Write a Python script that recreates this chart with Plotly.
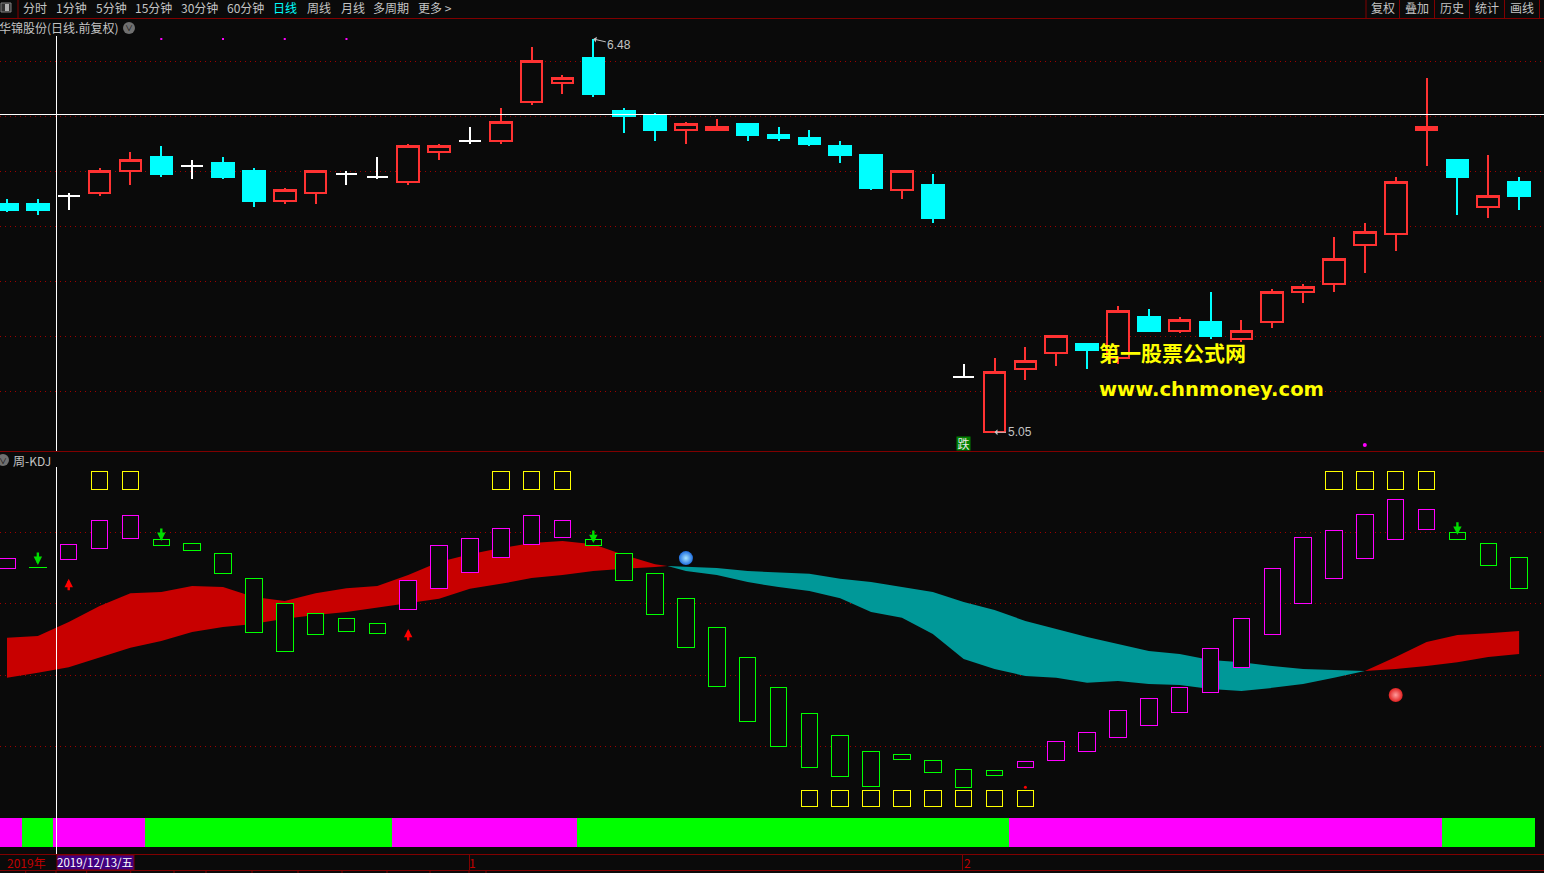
import plotly.graph_objects as go

# ---------- data ----------
opens = [5.88,5.88,5.91,5.92,6.00,6.05,6.02,6.03,6.00,5.89,5.92,5.99,5.98,5.96,6.07,6.11,6.11,6.25,6.32,6.41,
         6.22,6.20,6.15,6.15,6.17,6.13,6.12,6.09,6.06,5.93,5.95,5.25,5.05,5.28,5.34,5.37,5.32,5.47,5.42,5.45,
         5.39,5.45,5.56,5.59,5.73,5.77,6.15,6.04,5.87,5.96]
highs = [5.90,5.90,5.92,6.01,6.07,6.09,6.04,6.05,6.01,5.94,6.00,6.00,6.05,6.10,6.10,6.16,6.23,6.45,6.35,6.48,
         6.23,6.21,6.18,6.19,6.17,6.16,6.15,6.11,6.06,6.00,5.99,5.30,5.32,5.36,5.40,5.37,5.51,5.50,5.47,5.56,
         5.46,5.57,5.59,5.76,5.81,5.98,6.34,6.04,6.06,5.98]
lows = [5.85,5.84,5.86,5.91,5.95,5.98,5.97,5.97,5.87,5.88,5.88,5.95,5.97,5.95,6.04,6.10,6.10,6.24,6.28,6.27,
        6.14,6.11,6.10,6.15,6.11,6.11,6.09,6.03,5.93,5.90,5.81,5.25,5.05,5.24,5.29,5.28,5.30,5.42,5.41,5.39,
        5.38,5.43,5.52,5.56,5.63,5.71,6.02,5.84,5.83,5.86]
closes = [5.86,5.86,5.91,6.00,6.04,5.99,6.02,5.98,5.89,5.93,6.00,5.99,5.98,6.09,6.09,6.11,6.18,6.40,6.34,6.28,
          6.20,6.15,6.17,6.16,6.13,6.12,6.10,6.06,5.94,6.00,5.83,5.25,5.27,5.31,5.40,5.35,5.49,5.42,5.46,5.40,
          5.42,5.56,5.58,5.68,5.78,5.96,6.16,5.98,5.91,5.91]

kdj_top = [72.7,70.2,76.6,83.1,84.5,78.0,76.9,74.1,66.9,60.1,57.3,55.7,54.5,66.3,76.1,78.3,81.1,84.5,83.1,78.0,
           74.1,68.5,61.5,53.4,44.8,36.6,29.1,23.2,18.5,17.9,16.2,13.7,13.2,15.9,21.3,23.8,30.2,33.3,36.6,47.3,
           55.7,69.7,78.6,80.3,84.8,89.0,86.4,80.0,76.9,73.0]
kdj_bottom = [69.9,70.1,72.2,75.5,78.3,76.1,74.7,68.3,52.0,46.7,51.2,52.3,51.5,58.2,64.1,68.8,73.0,76.6,78.6,76.1,
              66.3,56.8,47.6,36.9,27.1,19.9,14.0,11.5,8.7,16.5,12.6,8.4,12.0,14.0,16.2,18.7,22.4,26.0,29.4,35.2,
              42.2,51.2,60.1,66.9,72.7,78.0,80.6,78.0,70.5,64.3]
kdj_rising = [1,0,1,1,1,0,0,0,0,0,0,0,0,1,1,1,1,1,1,0,
              0,0,0,0,0,0,0,0,0,0,0,0,0,1,1,1,1,1,1,1,
              1,1,1,1,1,1,1,0,0,0]

strip_rising = [1,0,1,1,1,0,0,0,0,0,0,0,0,1,1,1,1,1,1,0,
                0,0,0,0,0,0,0,0,0,0,0,0,0,1,1,1,1,1,1,1,
                1,1,1,1,1,1,1,0,0,0]

band_up_x = list(range(0, 22)) + [21.4]
band_up_top = [50.4,50.9,54.8,59.3,62.9,63.2,64.9,64.6,61.8,60.7,62.9,64.3,64.9,68.0,71.6,73.8,75.5,76.9,77.5,76.6,73.6,71.0,70.5]
band_up_bottom = [39.2,40.6,42.2,44.8,47.6,49.5,52.0,53.4,54.3,55.7,56.8,57.6,58.7,60.1,61.3,64.1,65.5,67.1,68.0,69.1,69.7,70.2,70.5]

band_down_x = [21.4] + list(range(22, 45))
band_down_top = [70.5,70.2,69.9,69.1,68.8,68.3,66.9,66.0,64.6,63.2,60.4,58.2,55.1,52.9,50.6,48.7,46.7,45.9,44.2,43.6,42.5,41.7,41.4,41.1]
band_down_bottom = [70.5,69.1,68.0,66.0,64.6,63.5,61.5,57.6,56.0,51.5,44.5,41.7,39.7,39.2,37.8,38.3,37.5,37.2,36.1,35.5,36.4,37.5,39.2,41.1]

band_up2_x = [44, 45, 46, 47, 48, 49]
band_up2_top = [41.1,45.0,49.2,51.2,51.7,52.3]
band_up2_bottom = [41.1,41.7,42.5,43.6,45.0,45.9]

high_marks = [3,4,16,17,18,43,44,45,46]
low_marks = [26,27,28,29,30,31,32,33]
high_mark_range = (92.0, 96.8)
low_mark_range = (3.1, 7.8)

sell_arrows_x = [1,5,19,47]
sell_arrows_y = [70.8,77.5,76.9,79.2]
buy_arrows_x = [2,13]
buy_arrows_y = [66.9,52.9]

dots_top_x = [5,7,9,11]
dots_top_y = [6.48,6.48,6.48,6.48]

toolbar_left = [("分时",34.5),("1分钟",71),("5分钟",111),("15分钟",153),("30分钟",199.5),("60分钟",245),
                ("周线",319),("月线",353),("多周期",391),("更多 >",434.5)]
toolbar_right = [("复权",1383),("叠加",1417),("历史",1452),("统计",1487),("画线",1522)]
toolbar_seps = [18,1366,1399.5,1434.5,1469.5,1504.5,1539.5]
bottom_ticks = [25.7,56,86.7,130.7,174,206,252,298,342,387,430,469,486]

# ---------- style ----------
BG = "#0A0A0A"; RED = "#FF3232"; CYAN = "#00FFFF"; MAG = "#FF00FF"; GRN = "#00FF00"; YEL = "#FFFF00"
DARK = "#800000"; TXT = "#C4C4C4"; CJK = "Noto Sans CJK SC"
W, H = 1544, 873
def fx(p): return p / W
def fy(p): return 1 - p / H

fig = go.Figure()
idx = list(range(len(opens)))

# candles
main = [i for i in idx if opens[i] != closes[i]]
doji = [i for i in idx if opens[i] == closes[i]]
fig.add_trace(go.Candlestick(
    x=main, open=[opens[i] for i in main], high=[highs[i] for i in main],
    low=[lows[i] for i in main], close=[closes[i] for i in main],
    whiskerwidth=0, xaxis="x", yaxis="y",
    increasing=dict(line=dict(color=RED, width=2), fillcolor=BG),
    decreasing=dict(line=dict(color=CYAN, width=2), fillcolor=CYAN)))
fig.add_trace(go.Candlestick(
    x=doji, open=[opens[i] for i in doji], high=[highs[i] for i in doji],
    low=[lows[i] for i in doji], close=[closes[i] for i in doji],
    whiskerwidth=0, xaxis="x", yaxis="y",
    increasing=dict(line=dict(color="#FFFFFF", width=2), fillcolor="#FFFFFF"),
    decreasing=dict(line=dict(color="#FFFFFF", width=2), fillcolor="#FFFFFF")))
fig.add_trace(go.Scatter(x=dots_top_x, y=dots_top_y, mode="markers", xaxis="x", yaxis="y",
                         marker=dict(color=MAG, size=2, symbol="square", line=dict(width=0))))
fig.add_trace(go.Scatter(x=[44], y=[5.004], mode="markers", xaxis="x", yaxis="y",
                         marker=dict(color=MAG, size=4, line=dict(width=0))))

# ribbon
for xs, top, bot, col in [(band_up_x, band_up_top, band_up_bottom, "#C80000"),
                          (band_down_x, band_down_top, band_down_bottom, "#009898"),
                          (band_up2_x, band_up2_top, band_up2_bottom, "#C80000")]:
    fig.add_trace(go.Scatter(x=xs + xs[::-1], y=top + bot[::-1], mode="lines", fill="toself",
                             fillcolor=col, line=dict(width=0), xaxis="x", yaxis="y2", zorder=-1))

# KDJ boxes
fig.add_trace(go.Bar(x=idx, base=kdj_bottom, y=[t - b for t, b in zip(kdj_top, kdj_bottom)],
                     width=0.535, xaxis="x", yaxis="y2", zorder=1,
                     marker=dict(color=BG, line=dict(width=1, color=[MAG if r else GRN for r in kdj_rising]))))
for xs, (lo, hi) in [(high_marks, high_mark_range), (low_marks, low_mark_range)]:
    fig.add_trace(go.Bar(x=xs, base=[lo] * len(xs), y=[hi - lo] * len(xs), width=0.535,
                         xaxis="x", yaxis="y2", zorder=1,
                         marker=dict(color=BG, line=dict(width=1, color=YEL))))

# balls
fig.add_trace(go.Scatter(x=[22], y=[72.7], mode="markers", xaxis="x", yaxis="y2", zorder=2,
                         marker=dict(size=14, color="#1F6FE0", gradient=dict(type="radial", color="#A8E4FF"), line=dict(width=0))))
fig.add_trace(go.Scatter(x=[45], y=[34.4], mode="markers", xaxis="x", yaxis="y2", zorder=2,
                         marker=dict(size=14, color="#E02020", gradient=dict(type="radial", color="#FF9C9C"), line=dict(width=0))))
fig.add_trace(go.Scatter(x=[33], y=[8.6], mode="markers", xaxis="x", yaxis="y2", zorder=2,
                         marker=dict(size=3, color="#FF0000", line=dict(width=0))))

# state strip
fig.add_trace(go.Bar(x=idx, y=[1] * len(idx), width=1.03, xaxis="x", yaxis="y3",
                     marker=dict(color=[MAG if s else GRN for s in strip_rising], line=dict(width=0))))

# ---------- texts ----------
ann = []
def label(text, x, y, color=TXT, size=12, anchor="center", family=CJK, **kw):
    ann.append(dict(text=text, x=fx(x), y=fy(y), xref="paper", yref="paper", showarrow=False,
                    xanchor=anchor, yanchor="middle", font=dict(color=color, size=size, family=family), **kw))
for t, x in toolbar_left + toolbar_right:
    label(t, x, 8)
label("日线", 285, 8, color=CYAN)
label("华锦股份(日线.前复权)", -3, 28, anchor="left")
label("周-KDJ", 10.5, 460, anchor="left")
label("∨", 129, 28, color="#101010", size=8)
label("∨", 3, 460, color="#101010", size=8)
label("2019年", 5, 862, color="#C00000", anchor="left")
label("2019/12/13/五", 55, 862, color="#FFFFFF", size=11.5, anchor="left")
label("1", 473, 862, color="#C00000")
label("2", 967, 862, color="#C00000")
label("<b>第一股票公式网</b>", 1096.5, 352, color=YEL, size=21, anchor="left")
label("<b>www.chnmoney.com</b>", 1096.5, 389, color=YEL, size=19.6, anchor="left", family="DejaVu Sans")

for x, y, ax, ay, t in [(19, 6.48, 26, 6, "6.48"), (32, 5.05, 25, 0, "5.05")]:
    ann.append(dict(text=t, x=x, y=y, xref="x", yref="y", showarrow=True, ax=ax, ay=ay, axref="pixel", ayref="pixel",
                    arrowhead=1, arrowsize=1, arrowwidth=1, arrowcolor=TXT, font=dict(color=TXT, size=12, family="Liberation Sans")))
ann.append(dict(text="跌", x=31, y=5.01, xref="x", yref="y", showarrow=False, bgcolor="#008000", borderpad=0,
                width=13, height=13, xshift=-0.5, font=dict(color="#E8E8E8", size=12, family=CJK)))
for xs, ys, col, ay in [(sell_arrows_x, sell_arrows_y, "#00DD00", -14), (buy_arrows_x, buy_arrows_y, "#FF0000", 13)]:
    for x, y in zip(xs, ys):
        ann.append(dict(text="", x=x, y=y, xref="x", yref="y2", showarrow=True, ax=0, ay=ay,
                        arrowhead=2, arrowsize=0.7, arrowwidth=2.4, arrowcolor=col))

# ---------- chrome ----------
shp = []
def hline(y, color=DARK, x0=0, x1=W, width=1):
    shp.append(dict(type="line", xref="paper", yref="paper", x0=fx(x0), x1=fx(x1), y0=fy(y), y1=fy(y), line=dict(color=color, width=width)))
def vline(x, y0, y1, color=DARK, width=1):
    shp.append(dict(type="line", xref="paper", yref="paper", x0=fx(x), x1=fx(x), y0=fy(y0), y1=fy(y1), line=dict(color=color, width=width)))
hline(18.5); hline(451.5); hline(854.5); hline(870.5)
for x in toolbar_seps:
    vline(x, 0, 18)
for x in bottom_ticks:
    vline(x, 870, 873)
vline(469.5, 855, 870); vline(962.5, 855, 870)
shp.append(dict(type="rect", xref="paper", yref="paper", x0=fx(57), x1=fx(134), y0=fy(855), y1=fy(870),
                fillcolor="#400080", line=dict(color=DARK, width=1), layer="below"))
# crosshair
hline(114.5, color="#FFFFFF")
vline(56.5, 36, 451, color="#FFFFFF"); vline(56.5, 467, 854, color="#FFFFFF")
# icons
shp.append(dict(type="circle", xref="paper", yref="paper", x0=fx(123), x1=fx(135), y0=fy(22), y1=fy(34), fillcolor="#707070", line=dict(width=0), layer="below"))
shp.append(dict(type="circle", xref="paper", yref="paper", x0=fx(-3), x1=fx(9), y0=fy(454), y1=fy(466), fillcolor="#707070", line=dict(width=0), layer="below"))
shp.append(dict(type="rect", xref="paper", yref="paper", x0=fx(1), x1=fx(11), y0=fy(3), y1=fy(12), fillcolor="#303030", line=dict(color="#808080", width=1)))
shp.append(dict(type="rect", xref="paper", yref="paper", x0=fx(5), x1=fx(9), y0=fy(4), y1=fy(11), fillcolor="#B0B0B0", line=dict(width=0)))

# ---------- axes ----------
def price_at(y): return 6.4 - (y - 61) / 275
def kdj_at(y): return 80 - (y - 532) / 3.575
grid = dict(showgrid=True, gridcolor="#A00000", griddash="1px,4px", gridwidth=1, zeroline=False,
            showticklabels=False, ticks="", showline=False, anchor="x")
fig.update_layout(
    width=W, height=H, margin=dict(l=0, r=0, t=0, b=0), autosize=False,
    paper_bgcolor=BG, plot_bgcolor=BG, showlegend=False, barmode="overlay", boxgap=0.30, boxgroupgap=0,
    annotations=ann, shapes=shp,
    xaxis=dict(range=[-7 / 30.86, (W - 7) / 30.86], visible=False, showgrid=False, zeroline=False,
               rangeslider=dict(visible=False), fixedrange=True, domain=[0, 1], anchor="y"),
    yaxis=dict(domain=[fy(451), fy(20)], range=[price_at(451), price_at(20)],
               tickvals=[6.4, 6.2, 6.0, 5.8, 5.6, 5.4, 5.2], **grid),
    yaxis2=dict(domain=[fy(815), fy(452)], range=[kdj_at(815), kdj_at(452)],
                tickvals=[80, 60, 40, 20], **grid),
    yaxis3=dict(domain=[fy(847), fy(818)], range=[0, 1], visible=False, showgrid=False, zeroline=False, anchor="x"),
)

css = ".bars path,.boxes path{shape-rendering:crispEdges !important;}"
fig.write_html("out.html", config=dict(displayModeBar=False),
               post_script=("document.body.style.margin='0';document.body.style.background='#0A0A0A';"
                            "document.body.style.overflow='hidden';"
                            "var s=document.createElement('style');s.textContent='" + css + "';document.head.appendChild(s);"))
